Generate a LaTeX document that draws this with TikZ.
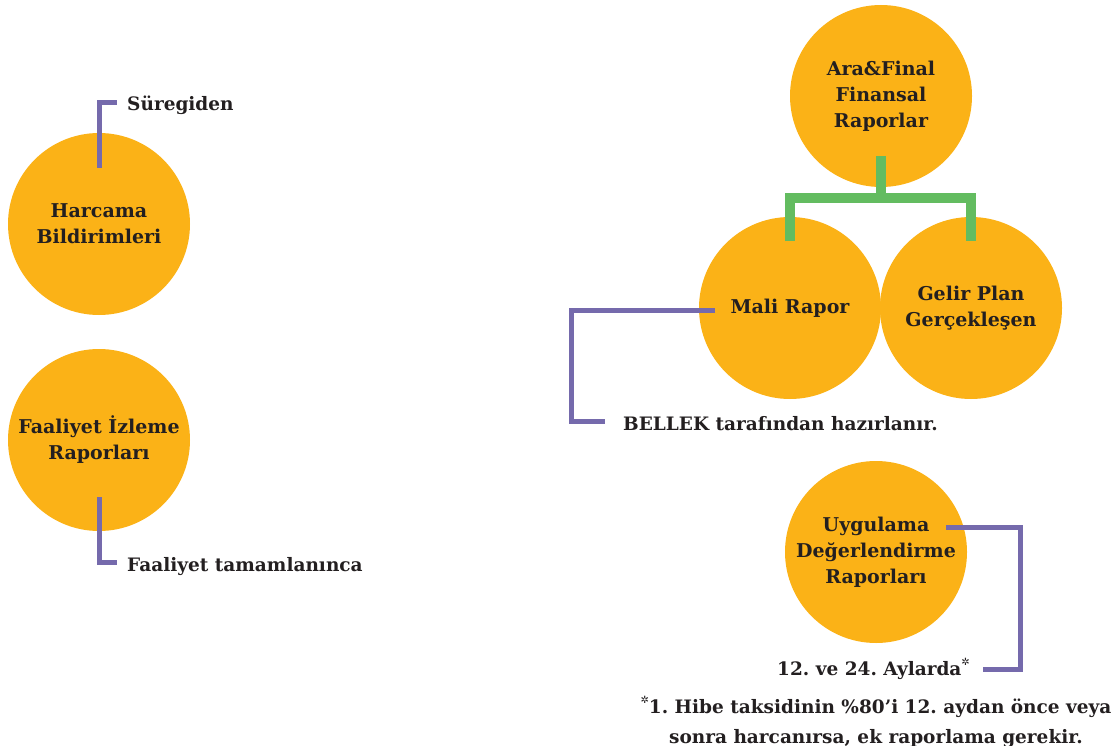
\documentclass[tikz,border=0pt]{standalone}
\usepackage{fontspec}
\setmainfont{DejaVu Serif}
\newfontfamily\symfont{DejaVu Sans}
\usepackage{xcolor}
\definecolor{sunorange}{RGB}{251,178,23}
\definecolor{leafgreen}{RGB}{99,188,96}
\definecolor{lilac}{RGB}{117,106,172}
\definecolor{inkgray}{RGB}{35,31,32}
\newcommand{\yildiz}{\raisebox{0.5em}{\fontsize{10}{10}\selectfont\symfont ✲}}
\frenchspacing

\begin{document}
\begin{tikzpicture}[x=1pt,y=-1pt,
		disc/.style={circle,fill=sunorange,minimum size=182pt,inner sep=0pt,align=center,text=inkgray,font=\fontsize{19}{26}\selectfont\bfseries},
		note/.style={inner sep=0pt,text=inkgray,font=\fontsize{18.5}{30}\selectfont\bfseries},
		bracket/.style={draw=lilac,line width=5pt},
		branch/.style={draw=leafgreen,line width=10.5pt}]
			\useasboundingbox (0,0) rectangle (1113,746);
			\node[disc] (harcama) at (99,224) {Harcama\\Bildirimleri};
			\node[disc] (faaliyet) at (99,440) {Faaliyet İzleme\\Raporları};
			\node[disc] (ara) at (881,96) {Ara\&Final\\Finansal\\Raporlar};
			\node[disc] (mali) at (790,308) {Mali Rapor};
			\node[disc] (gelir) at (971,308) {Gelir Plan\\Gerçekleşen};
			\node[disc] (uyg) at (876,552) {Uygulama\\Değerlendirme\\Raporları};
			\node[note,anchor=base west] (sure) at (127,111) {Süregiden};
			\node[note,anchor=base west] (tamam) at (127,571) {Faaliyet tamamlanınca};
			\node[note,anchor=base west] (bellek) at (623,430) {BELLEK tarafından hazırlanır.};
			\node[note,anchor=base east] (aylar) at (970,675) {12. ve 24. Aylarda\yildiz};
			\node[note,align=center] (dipnot) at (876,722) {\yildiz1. Hibe taksidinin \%80’i 12. aydan önce veya\\sonra harcanırsa, ek raporlama gerekir.};
			\draw[branch] ([yshift=-60pt]ara.center) -- ([yshift=-102pt]ara.center);
			\draw[branch] ([yshift=67pt]mali.center) |- ([yshift=-102pt]ara.center) -| ([yshift=67pt]gelir.center);
			\draw[bracket] ([yshift=56pt]harcama.center) |- ([xshift=-10pt,yshift=8pt]sure.base west);
			\draw[bracket] ([yshift=-57pt]faaliyet.center) |- ([xshift=-10pt,yshift=9pt]tamam.base west);
			\draw[bracket] ([xshift=-75pt,yshift=-2pt]mali.center) -| ([xshift=-52pt,yshift=9pt]bellek.base west) -- ([xshift=-18pt,yshift=9pt]bellek.base west);
			\draw[bracket] ([xshift=70pt,yshift=24.5pt]uyg.center) -| ([xshift=50pt,yshift=6pt]aylar.base east) -- ([xshift=13pt,yshift=6pt]aylar.base east);
		\end{tikzpicture}
\end{document}
